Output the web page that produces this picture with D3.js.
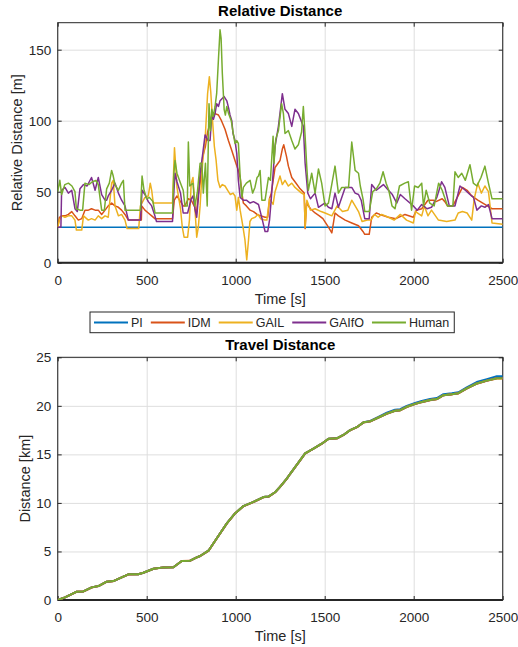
<!DOCTYPE html>
<html>
<head>
<meta charset="utf-8">
<script src="https://cdn.jsdelivr.net/npm/d3@7"></script>
<style>
  body { margin: 0; background: #fff; }
  svg { display: block; font-family: "Liberation Sans", Arial, Helvetica, sans-serif; }
</style>
</head>
<body>
<div id="chart"></div>
<script>
/* global d3 */

// Two stacked MATLAB-style panels: relative distance and travel distance
// for the five controllers, shared legend in between.

const SERIES_NAMES = ['PI', 'IDM', 'GAIL', 'GAIfO', 'Human'];
const SERIES_COLOURS = ['#0072bd', '#d95319', '#edb120', '#7e2f8e', '#77ac30'];
const TIME_TICKS = [0, 500, 1000, 1500, 2000, 2500];
const REL_TICKS = [0, 50, 100, 150];
const TRAVEL_TICKS = [0, 5, 10, 15, 20, 25];

// relative distance [m] as [time s, value]
const relPI = [[0, 25], [500, 25], [1000, 25], [1500, 25], [2000, 25], [2500, 25]];

const relIDM = [[0,25],[10,32],[22,33],[41,33],[60,34],[79,36],[97,33],[116,30],[135,31],[153,37],[172,37],[190,38],[210,37],[228,37],[247,34],[266,37],[284,40],[303,42],[322,40],[341,39],[359,37],[378,34],[397,30],[415,30],[470,30],[472,40],[490,37],[509,35],[528,33],[546,31],[645,31],[655,44],[670,47],[690,43],[705,40],[715,40],[734,45],[750,44],[771,39],[778,33],[790,48],[800,56],[815,75],[830,82],[842,92],[856,98],[865,103],[884,105],[903,104],[920,100],[940,94],[959,86],[978,79],[996,72],[1015,65],[1025,60],[1035,49],[1043,42],[1060,40],[1081,37],[1100,36],[1120,34],[1140,33],[1165,32],[1180,32],[1190,45],[1200,49],[1221,67],[1249,72],[1262,80],[1270,83],[1285,75],[1296,68],[1315,60],[1333,57],[1362,52],[1385,49],[1390,24],[1398,42],[1420,38],[1446,35],[1470,33],[1490,31],[1521,25],[1540,21],[1558,35],[1577,33],[1615,30],[1652,28],[1690,26],[1715,22],[1725,20],[1750,20],[1764,32],[1790,35],[1810,34],[1858,32],[1900,31],[1951,34],[1998,32],[2015,37],[2045,38],[2080,44],[2110,44],[2125,43],[2160,45],[2175,43],[2190,40],[2220,40],[2274,53],[2300,51],[2326,47],[2360,44],[2400,41],[2440,38],[2500,38]];

const relGAIL = [[0,25],[10,30],[22,33],[41,32],[60,33],[79,33],[97,30],[105,23],[125,23],[135,23],[145,33],[172,30],[190,31],[210,30],[228,33],[247,31],[266,33],[284,32],[303,56],[312,58],[322,40],[341,33],[359,34],[378,30],[390,24],[455,24],[465,40],[490,46],[509,47],[520,56],[528,51],[537,42],[547,42],[645,42],[650,60],[656,81],[662,70],[670,53],[690,38],[700,25],[710,18],[730,18],[740,30],[750,56],[760,60],[771,38],[781,18],[790,25],[800,40],[815,72],[828,86],[842,119],[852,131],[860,120],[870,100],[880,82],[890,72],[900,58],[912,53],[925,55],[940,54],[955,51],[970,48],[985,49],[996,47],[1006,37],[1015,46],[1025,37],[1040,26],[1052,16],[1062,2],[1072,16],[1080,29],[1090,31],[1109,32],[1125,34],[1140,31],[1165,30],[1175,30],[1190,45],[1210,41],[1221,50],[1249,61],[1262,55],[1277,58],[1296,54],[1315,56],[1333,53],[1370,49],[1385,48],[1390,25],[1400,44],[1420,37],[1446,38],[1480,36],[1502,35],[1540,33],[1570,40],[1600,36],[1630,37],[1652,44],[1671,40],[1690,36],[1710,29],[1740,30],[1760,30],[1780,34],[1800,32],[1820,34],[1858,32],[1890,30],[1925,34],[1960,30],[1998,28],[2010,36],[2045,33],[2060,40],[2080,33],[2100,37],[2139,30],[2185,29],[2232,30],[2250,35],[2274,36],[2300,35],[2326,30],[2340,45],[2360,56],[2380,49],[2400,54],[2420,50],[2440,28],[2500,27]];

const relGAIfO = [[0,25],[18,25],[22,51],[41,53],[60,49],[79,51],[97,38],[110,36],[125,52],[145,55],[165,54],[190,60],[210,51],[228,60],[247,48],[266,44],[275,44],[284,47],[303,51],[322,56],[341,49],[359,44],[378,40],[397,30],[440,30],[465,30],[474,51],[490,48],[509,43],[528,40],[546,33],[555,29],[645,29],[652,48],[659,63],[670,57],[690,49],[705,35],[730,35],[750,45],[760,47],[771,38],[781,32],[790,45],[800,63],[810,72],[828,90],[845,86],[856,86],[865,103],[875,101],[884,105],[893,112],[903,110],[912,114],[935,117],[950,114],[960,109],[968,104],[978,100],[985,91],[996,86],[1006,77],[1015,58],[1025,46],[1043,44],[1060,44],[1081,42],[1100,43],[1128,41],[1150,30],[1165,22],[1180,22],[1190,30],[1200,45],[1221,82],[1240,96],[1262,119],[1277,108],[1296,105],[1315,96],[1333,108],[1352,105],[1380,96],[1390,70],[1405,49],[1420,45],[1446,49],[1465,39],[1500,42],[1521,39],[1540,38],[1558,49],[1577,39],[1615,53],[1652,53],[1671,49],[1690,48],[1705,44],[1725,31],[1750,31],[1764,55],[1790,51],[1810,53],[1830,55],[1858,51],[1880,48],[1905,42],[1925,48],[1951,45],[1998,40],[2020,37],[2045,41],[2075,38],[2100,39],[2130,46],[2157,57],[2175,53],[2200,40],[2232,40],[2260,54],[2290,51],[2316,48],[2336,46],[2355,37],[2380,40],[2400,39],[2420,41],[2440,31],[2500,31]];

const relHuman = [[0,50],[12,58],[22,48],[40,55],[60,56],[80,54],[97,50],[105,38],[125,37],[140,37],[153,56],[175,55],[195,57],[215,58],[228,55],[247,37],[262,37],[275,52],[290,56],[303,65],[312,61],[322,55],[341,51],[359,56],[369,58],[378,37],[440,37],[465,37],[474,61],[485,51],[500,45],[515,46],[535,43],[547,35],[645,35],[652,62],[659,72],[670,63],[690,56],[705,51],[715,40],[728,40],[734,85],[742,54],[760,56],[771,40],[785,50],[800,70],[810,70],[818,49],[830,70],[840,40],[850,112],[858,93],[866,108],[874,103],[884,110],[893,119],[903,143],[912,164],[918,158],[925,133],[935,108],[942,104],[950,110],[960,105],[975,100],[985,92],[996,84],[1006,86],[1015,84],[1025,61],[1035,46],[1043,53],[1060,56],[1081,58],[1095,49],[1108,53],[1120,60],[1128,61],[1137,65],[1147,44],[1165,44],[1184,60],[1195,58],[1210,89],[1215,70],[1225,87],[1240,93],[1258,112],[1268,105],[1277,91],[1296,93],[1315,86],[1333,80],[1352,83],[1370,92],[1380,110],[1390,89],[1399,68],[1408,51],[1427,63],[1446,49],[1465,66],[1483,56],[1502,40],[1521,42],[1558,68],[1577,49],[1596,53],[1634,53],[1652,85],[1671,65],[1690,63],[1700,54],[1715,45],[1725,36],[1750,36],[1770,50],[1790,52],[1810,56],[1828,64],[1845,56],[1860,51],[1878,40],[1895,38],[1920,54],[1950,56],[1970,57],[1988,37],[2005,54],[2025,53],[2045,56],[2055,40],[2070,51],[2090,42],[2115,40],[2140,56],[2160,51],[2190,40],[2220,40],[2232,64],[2250,60],[2270,63],[2290,58],[2316,69],[2335,56],[2355,54],[2378,60],[2400,68],[2420,56],[2440,45],[2500,45]];

// travel distance [km], shared time stamps for the bottom panel
const travelTime = [0,41,107,144,191,229,275,313,350,397,453,481,538,594,650,697,744,781,800,847,893,950,996,1043,1100,1156,1184,1221,1249,1287,1306,1350,1390,1437,1483,1521,1568,1605,1643,1680,1718,1755,1802,1849,1895,1924,1961,2008,2045,2092,2130,2167,2214,2251,2298,2354,2411,2467,2500];
const travelPI = [0,0.27,0.86,0.88,1.3,1.44,1.89,1.95,2.26,2.64,2.66,2.81,3.22,3.36,3.38,4.02,4.05,4.39,4.53,5.08,6.34,7.89,8.92,9.67,10.1,10.6,10.65,11.1,11.66,12.5,13.0,14.1,15.1,15.6,16.1,16.6,16.65,17.0,17.5,17.8,18.3,18.45,18.85,19.3,19.6,19.65,20.0,20.3,20.5,20.7,20.8,21.2,21.3,21.4,21.9,22.45,22.75,23.05,23.05];
const travelIDM = [0,0.26,0.85,0.87,1.29,1.43,1.88,1.94,2.25,2.63,2.65,2.8,3.21,3.35,3.37,4.01,4.04,4.38,4.52,5.06,6.32,7.87,8.9,9.65,10.08,10.58,10.63,11.08,11.64,12.48,12.98,14.08,15.08,15.58,16.08,16.58,16.63,16.98,17.48,17.78,18.28,18.38,18.78,19.18,19.48,19.53,19.88,20.18,20.38,20.58,20.68,21.08,21.18,21.28,21.78,22.28,22.58,22.82,22.82];
const travelGAIL = [0,0.27,0.86,0.88,1.3,1.44,1.89,1.95,2.26,2.64,2.66,2.81,3.22,3.36,3.38,4.02,4.05,4.39,4.53,5.08,6.34,7.89,8.92,9.67,10.1,10.6,10.65,11.1,11.66,12.5,13.0,14.1,15.1,15.6,16.1,16.6,16.65,17.0,17.5,17.8,18.3,18.4,18.8,19.2,19.5,19.55,19.9,20.2,20.4,20.6,20.7,21.1,21.2,21.3,21.8,22.3,22.6,22.85,22.85];
const travelGAIfO = [0,0.27,0.86,0.88,1.3,1.44,1.89,1.95,2.26,2.64,2.66,2.81,3.22,3.36,3.38,4.02,4.05,4.39,4.53,5.08,6.34,7.89,8.92,9.67,10.1,10.6,10.65,11.1,11.66,12.5,13.0,14.1,15.1,15.6,16.1,16.6,16.65,17.0,17.5,17.8,18.3,18.4,18.8,19.2,19.5,19.55,19.9,20.2,20.4,20.6,20.7,21.1,21.2,21.3,21.8,22.3,22.6,22.87,22.87];
const travelHuman = [0,0.27,0.86,0.88,1.3,1.44,1.89,1.95,2.26,2.64,2.66,2.81,3.22,3.36,3.38,4.02,4.05,4.39,4.53,5.08,6.34,7.89,8.92,9.67,10.1,10.6,10.65,11.1,11.66,12.5,13.0,14.1,15.1,15.6,16.1,16.6,16.65,17.0,17.5,17.8,18.3,18.4,18.8,19.2,19.5,19.55,19.9,20.2,20.4,20.6,20.7,21.1,21.2,21.3,21.8,22.3,22.6,22.85,22.85];

const relSeries = [relPI, relIDM, relGAIL, relGAIfO, relHuman];
const travelSeries = [travelPI, travelIDM, travelGAIL, travelGAIfO, travelHuman]
  .map((values) => travelTime.map((t, i) => [t, values[i]]));

const WIDTH = 518;
const HEIGHT = 647;
const AXIS_COLOUR = '#262626';
const GRID_COLOUR = '#dedede';

const svg = d3
  .select('#chart')
  .append('svg')
  .attr('width', WIDTH)
  .attr('height', HEIGHT);

svg.append('rect').attr('width', WIDTH).attr('height', HEIGHT).attr('fill', '#fff');

function drawPanel({ id, top, bottom, yDomain, yTicks, title, yLabel, series, lineWidth, labelPad }) {
  const left = 57.7;
  const right = 502.7;
  const w = right - left;
  const h = bottom - top;

  const x = d3.scaleLinear().domain([0, 2500]).range([0, w]);
  const y = d3.scaleLinear().domain(yDomain).range([h, 0]);

  const g = svg.append('g').attr('transform', `translate(${left},${top})`);

  svg
    .append('clipPath')
    .attr('id', `clip-${id}`)
    .append('rect')
    .attr('x', left)
    .attr('y', top)
    .attr('width', w)
    .attr('height', h);

  // gridlines
  g.append('g')
    .attr('transform', `translate(0,${h})`)
    .call(d3.axisBottom(x).tickValues(TIME_TICKS).tickSize(-h).tickFormat(''))
    .call((s) => s.select('.domain').remove())
    .selectAll('line')
    .attr('stroke', GRID_COLOUR);

  g.append('g')
    .call(d3.axisLeft(y).tickValues(yTicks).tickSize(-w).tickFormat(''))
    .call((s) => s.select('.domain').remove())
    .selectAll('line')
    .attr('stroke', GRID_COLOUR);

  // data lines
  const line = d3
    .line()
    .x((d) => x(d[0]))
    .y((d) => y(d[1]));

  const lines = svg
    .append('g')
    .attr('clip-path', `url(#clip-${id})`)
    .append('g')
    .attr('transform', `translate(${left},${top})`);

  series.forEach((data, i) => {
    lines
      .append('path')
      .datum(data)
      .attr('fill', 'none')
      .attr('stroke', SERIES_COLOURS[i])
      .attr('stroke-width', lineWidth)
      .attr('stroke-linejoin', 'round')
      .attr('d', line);
  });

  // box with inward ticks on all four sides
  const styleAxis = (s) => {
    s.select('.domain').remove();
    s.selectAll('line').attr('stroke', AXIS_COLOUR);
    s.selectAll('text').attr('fill', AXIS_COLOUR).attr('font-size', 13.5);
  };

  g.append('g')
    .attr('transform', `translate(0,${h})`)
    .call(d3.axisBottom(x).tickValues(TIME_TICKS).tickSize(-4).tickPadding(labelPad).tickFormat(d3.format('d')))
    .call(styleAxis);

  g.append('g')
    .call(d3.axisTop(x).tickValues(TIME_TICKS).tickSize(-4).tickFormat(''))
    .call(styleAxis);

  g.append('g')
    .call(d3.axisLeft(y).tickValues(yTicks).tickSize(-4).tickPadding(6.5).tickFormat(d3.format('d')))
    .call(styleAxis);

  g.append('g')
    .attr('transform', `translate(${w},0)`)
    .call(d3.axisRight(y).tickValues(yTicks).tickSize(-4).tickFormat(''))
    .call(styleAxis);

  g.append('rect')
    .attr('width', w)
    .attr('height', h)
    .attr('fill', 'none')
    .attr('stroke', AXIS_COLOUR)
    .attr('stroke-width', 1);

  g.append('line')
    .attr('x1', 0)
    .attr('x2', w)
    .attr('y1', h)
    .attr('y2', h)
    .attr('stroke', AXIS_COLOUR)
    .attr('stroke-width', 2);

  // titles and axis labels
  g.append('text')
    .attr('x', w / 2)
    .attr('y', -7)
    .attr('text-anchor', 'middle')
    .attr('font-size', 15)
    .attr('font-weight', 'bold')
    .attr('fill', '#000')
    .text(title);

  g.append('text')
    .attr('x', w / 2)
    .attr('y', h + 41.5)
    .attr('text-anchor', 'middle')
    .attr('font-size', 14.5)
    .attr('fill', AXIS_COLOUR)
    .text('Time [s]');

  g.append('text')
    .attr('transform', `translate(${yLabel.x - left},${h / 2}) rotate(-90)`)
    .attr('text-anchor', 'middle')
    .attr('font-size', 14.5)
    .attr('fill', AXIS_COLOUR)
    .text(yLabel.text);
}

drawPanel({
  id: 'rel',
  top: 22.7,
  bottom: 262.7,
  yDomain: [0, 169],
  yTicks: REL_TICKS,
  title: 'Relative Distance',
  yLabel: { text: 'Relative Distance [m]', x: 22 },
  series: relSeries,
  lineWidth: 1.5,
  labelPad: 13
});

drawPanel({
  id: 'travel',
  top: 357.3,
  bottom: 600,
  yDomain: [0, 25],
  yTicks: TRAVEL_TICKS,
  title: 'Travel Distance',
  yLabel: { text: 'Distance [km]', x: 30 },
  series: travelSeries,
  lineWidth: 2,
  labelPad: 12
});

// legend between the panels
const legend = svg.append('g');
const legendBox = legend.append('rect');
const legendY = 322.5;
let offsetX = 94;
SERIES_NAMES.forEach((name, i) => {
  legend
    .append('line')
    .attr('x1', offsetX)
    .attr('x2', offsetX + 34)
    .attr('y1', legendY)
    .attr('y2', legendY)
    .attr('stroke', SERIES_COLOURS[i])
    .attr('stroke-width', 2);
  const label = legend
    .append('text')
    .attr('x', offsetX + 37)
    .attr('y', legendY)
    .attr('dy', '0.35em')
    .attr('font-size', 12.5)
    .attr('fill', AXIS_COLOUR)
    .text(name);
  offsetX += 37 + label.node().getComputedTextLength() + 8;
});
legendBox
  .attr('x', 90)
  .attr('y', 312)
  .attr('width', offsetX - 8 + 5 - 90)
  .attr('height', 20.7)
  .attr('fill', '#fff')
  .attr('stroke', AXIS_COLOUR)
  .attr('stroke-width', 1);
</script>
</body>
</html>
